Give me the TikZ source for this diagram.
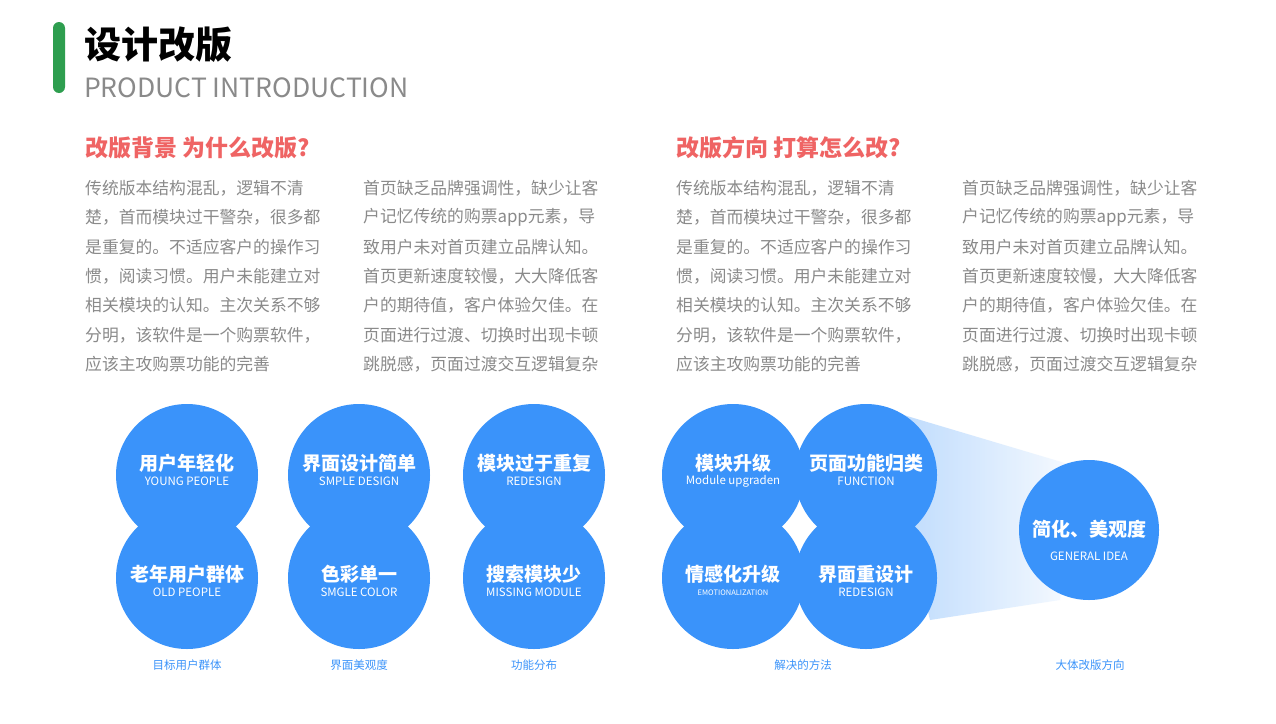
\documentclass[tikz,border=0pt]{standalone}
\usepackage{fontspec}
\setmainfont{Noto Sans CJK SC}
\usetikzlibrary{positioning}
\definecolor{bluec}{HTML}{3A93FA}
\definecolor{redh}{HTML}{EF6464}
\definecolor{grayt}{HTML}{8A8A8A}
\definecolor{greenbar}{HTML}{2E9E4F}
\tikzset{
  ball/.style={circle,fill=bluec,minimum size=142pt,inner sep=0pt},
  cn/.style={text=white,font=\fontsize{19}{19}\selectfont\bfseries},
  en/.style={text=white,font=\fontsize{11.5}{12}\selectfont},
  para/.style={anchor=west,text=grayt,font=\fontsize{16.8}{17}\selectfont,inner sep=0pt},
  head/.style={anchor=west,text=redh,font=\fontsize{23}{24}\selectfont\bfseries,inner sep=0pt},
  captext/.style={text=bluec,font=\fontsize{11.5}{12}\selectfont}
}
\newcommand{\balltext}[3]{%
  \node[cn] at ([yshift=12pt]#1) {#2};
  \node[en] at ([yshift=-6pt]#1) {#3};}
\newcommand{\balltextlow}[3]{%
  \node[cn] at ([yshift=4pt]#1) {#2};
  \node[en] at ([yshift=-14pt]#1) {#3};}
\begin{document}
\begin{tikzpicture}[x=1pt,y=-1pt]
\useasboundingbox[fill=white] (0,0) rectangle (1276,723);
% header
\fill[greenbar,rounded corners=6pt] (53,22) rectangle (65,93);
\node[anchor=west,inner sep=0pt,font=\fontsize{37}{38}\selectfont\bfseries] (title) at (84,45) {设计改版};
\node[anchor=west,inner sep=0pt,text=grayt,font=\fontsize{26.5}{27}\selectfont] (subtitle) at (84,88) {PRODUCT INTRODUCTION};
% headings
\node[head] (h1) at (85,148) {改版背景 为什么改版?};
\node[head] (h2) at (676,148) {改版方向 打算怎么改?};
% paragraphs
\foreach \x in {85,676}{
  \foreach \t [count=\i] in {传统版本结构混乱，逻辑不清,楚，首而模块过干警杂，很多都,是重复的。不适应客户的操作习,惯，阅读习惯。用户未能建立对,相关模块的认知。主次关系不够,分明，该软件是一个购票软件，,应该主攻购票功能的完善}
    \node[para] at (\x,159+29.3*\i) {\t};
}
\foreach \x in {363,962}{
  \foreach \t [count=\i] in {首页缺乏品牌强调性，缺少让客,户记忆传统的购票app元素，导,致用户未对首页建立品牌认知。,首页更新速度较慢，大大降低客,户的期待值，客户体验欠佳。在,页面进行过渡、切换时出现卡顿,跳脱感，页面过渡交互逻辑复杂}
    \node[para] at (\x,159+29.3*\i) {\t};
}
% light beam
\shade[left color=bluec!45,right color=bluec!5,opacity=0.8] (880,408) -- (1075,466) -- (1060,600) -- (930,620) -- cycle;
% balls
\node[ball] (b1) at (187,475) {};
\node[ball] (b2) at (187,578) {};
\node[ball] (b3) at (359,475) {};
\node[ball] (b4) at (359,578) {};
\node[ball] (b5) at (534,475) {};
\node[ball] (b6) at (534,578) {};
\node[ball] (b7) at (733,475) {};
\node[ball] (b8) at (866,475) {};
\node[ball] (b9) at (733,578) {};
\node[ball] (b10) at (866,578) {};
\node[ball,minimum size=140pt] (big) at (1089,530) {};
\balltext{b1}{用户年轻化}{YOUNG PEOPLE}
\balltextlow{b2}{老年用户群体}{OLD PEOPLE}
\balltext{b3}{界面设计简单}{SMPLE DESIGN}
\balltextlow{b4}{色彩单一}{SMGLE COLOR}
\balltext{b5}{模块过于重复}{REDESIGN}
\balltextlow{b6}{搜索模块少}{MISSING MODULE}
\balltext{b7}{模块升级}{Module upgraden}
\balltext{b8}{页面功能归类}{FUNCTION}
\node[cn] at ([yshift=4pt]b9) {情感化升级};
\node[en,font=\fontsize{7.5}{8}\selectfont] at ([yshift=-15pt]b9) {EMOTIONALIZATION};
\balltextlow{b10}{界面重设计}{REDESIGN}
\node[cn] at ([yshift=1pt]big) {简化、美观度};
\node[en] at ([yshift=-26pt]big) {GENERAL IDEA};
% captions
\node[captext] (c1) at (187,665) {目标用户群体};
\node[captext] (c2) at (359,665) {界面美观度};
\node[captext] (c3) at (534,665) {功能分布};
\node[captext] (c4) at (803,665) {解决的方法};
\node[captext] (c5) at (1090,665) {大体改版方向};
\end{tikzpicture}
\end{document}
